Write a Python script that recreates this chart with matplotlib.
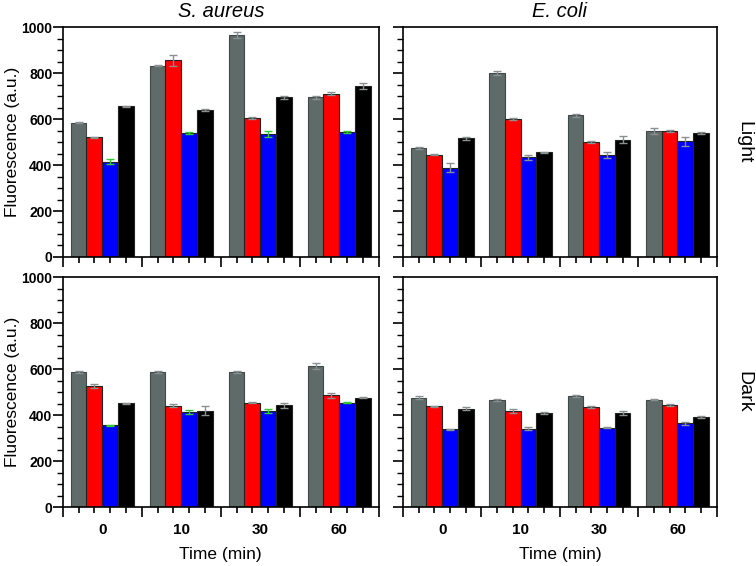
import numpy as np
import matplotlib
matplotlib.use('Agg')
import matplotlib.pyplot as plt
from matplotlib.ticker import MultipleLocator

plt.rcParams['font.family'] = ['Liberation Sans', 'DejaVu Sans']

times = ['0', '10', '30', '60']
colors = ['#5e6b69', '#ff0000', '#0000ff', '#000000']

# values per panel: rows = series (gray, red, blue, black), cols = time points
sa_light = [[585, 832, 965, 694],
            [520, 855, 604, 711],
            [415, 539, 536, 543],
            [656, 639, 694, 743]]
sa_light_err = [[3, 3, 12, 5], [3, 22, 5, 5], [12, 3, 12, 3], [3, 3, 5, 12]]

ec_light = [[475, 800, 616, 548],
            [445, 600, 501, 548],
            [389, 434, 444, 503],
            [516, 455, 510, 540]]
ec_light_err = [[5, 10, 8, 15], [3, 3, 3, 3], [20, 10, 12, 18], [5, 3, 15, 3]]

sa_dark = [[588, 588, 588, 614],
           [526, 442, 455, 487],
           [356, 414, 419, 455],
           [451, 419, 443, 477]]
sa_dark_err = [[3, 5, 5, 15], [8, 5, 3, 10], [3, 8, 8, 3], [3, 20, 10, 3]]

ec_dark = [[477, 467, 484, 468],
           [439, 417, 436, 445],
           [339, 342, 346, 364],
           [429, 410, 410, 393]]
ec_dark_err = [[5, 5, 3, 3], [3, 8, 3, 3], [3, 8, 3, 5], [8, 3, 8, 3]]

fig = plt.figure(figsize=(7.56, 5.66), dpi=100)

boxes = [(0.083, 0.546, 0.418, 0.406), (0.533, 0.546, 0.415, 0.406),
         (0.083, 0.104, 0.418, 0.406), (0.533, 0.104, 0.415, 0.406)]
panels = [(sa_light, sa_light_err), (ec_light, ec_light_err),
          (sa_dark, sa_dark_err), (ec_dark, ec_dark_err)]

axes = []
for k, (box, (vals, errs)) in enumerate(zip(boxes, panels)):
    ax = fig.add_axes(box)
    axes.append(ax)
    for s in range(4):
        x = np.arange(len(times)) * 5 + 1 + s
        # S. aureus blue bars have green error bars in the original
        ecol = '#33cc33' if (k in (0, 2) and s == 2) else '#8a9090'
        ax.bar(x, vals[s], width=1.0, color=colors[s],
               edgecolor='#222222' if s != 0 else '#404848', linewidth=0.8,
               yerr=errs[s], error_kw=dict(ecolor=ecol, capsize=3, elinewidth=1, capthick=1))
    ax.set_xlim(0, 20)
    ax.set_ylim(0, 1000)
    ax.set_xticks([0, 5, 10, 15, 20])
    ax.set_xticklabels([])
    ax.set_xticks([1, 2, 3, 4, 6, 7, 8, 9, 11, 12, 13, 14, 16, 17, 18, 19], minor=True)
    ax.yaxis.set_major_locator(MultipleLocator(200))
    ax.yaxis.set_minor_locator(MultipleLocator(50))
    ax.tick_params(axis='x', which='major', direction='out', length=7, width=1.2)
    ax.tick_params(axis='x', which='minor', direction='out', length=4, width=1.2)
    ax.tick_params(axis='y', which='major', direction='out', length=7, width=1.2,
                   labelsize=10, pad=0.5)
    ax.tick_params(axis='y', which='minor', direction='out', length=4, width=1)
    for sp in ax.spines.values():
        sp.set_linewidth(1.2)
    if k in (1, 3):
        ax.set_yticklabels([])
    else:
        for lab in ax.get_yticklabels():
            lab.set_fontweight('bold')
        ax.set_ylabel('Fluorescence (a.u.)', fontsize=12.5)
        ax.yaxis.set_label_coords(-0.136, 0.5)
    if k in (2, 3):
        for i, t in enumerate(times):
            ax.text(i * 5 + 2.5, -0.1, t, transform=ax.get_xaxis_transform(),
                    ha='center', va='center', fontsize=11, fontweight='bold')
        ax.text(0.5, -0.208, 'Time (min)', transform=ax.transAxes,
                ha='center', va='center', fontsize=12.5)

axes[0].set_title('S. aureus', fontsize=14.5, style='italic', pad=7)
axes[1].set_title('E. coli', fontsize=14.5, style='italic', pad=7)
axes[1].text(1.086, 0.5, 'Light', transform=axes[1].transAxes, rotation=270,
             ha='center', va='center', fontsize=14)
axes[3].text(1.086, 0.5, 'Dark', transform=axes[3].transAxes, rotation=270,
             ha='center', va='center', fontsize=14)

fig.savefig('out.png', dpi=100)
